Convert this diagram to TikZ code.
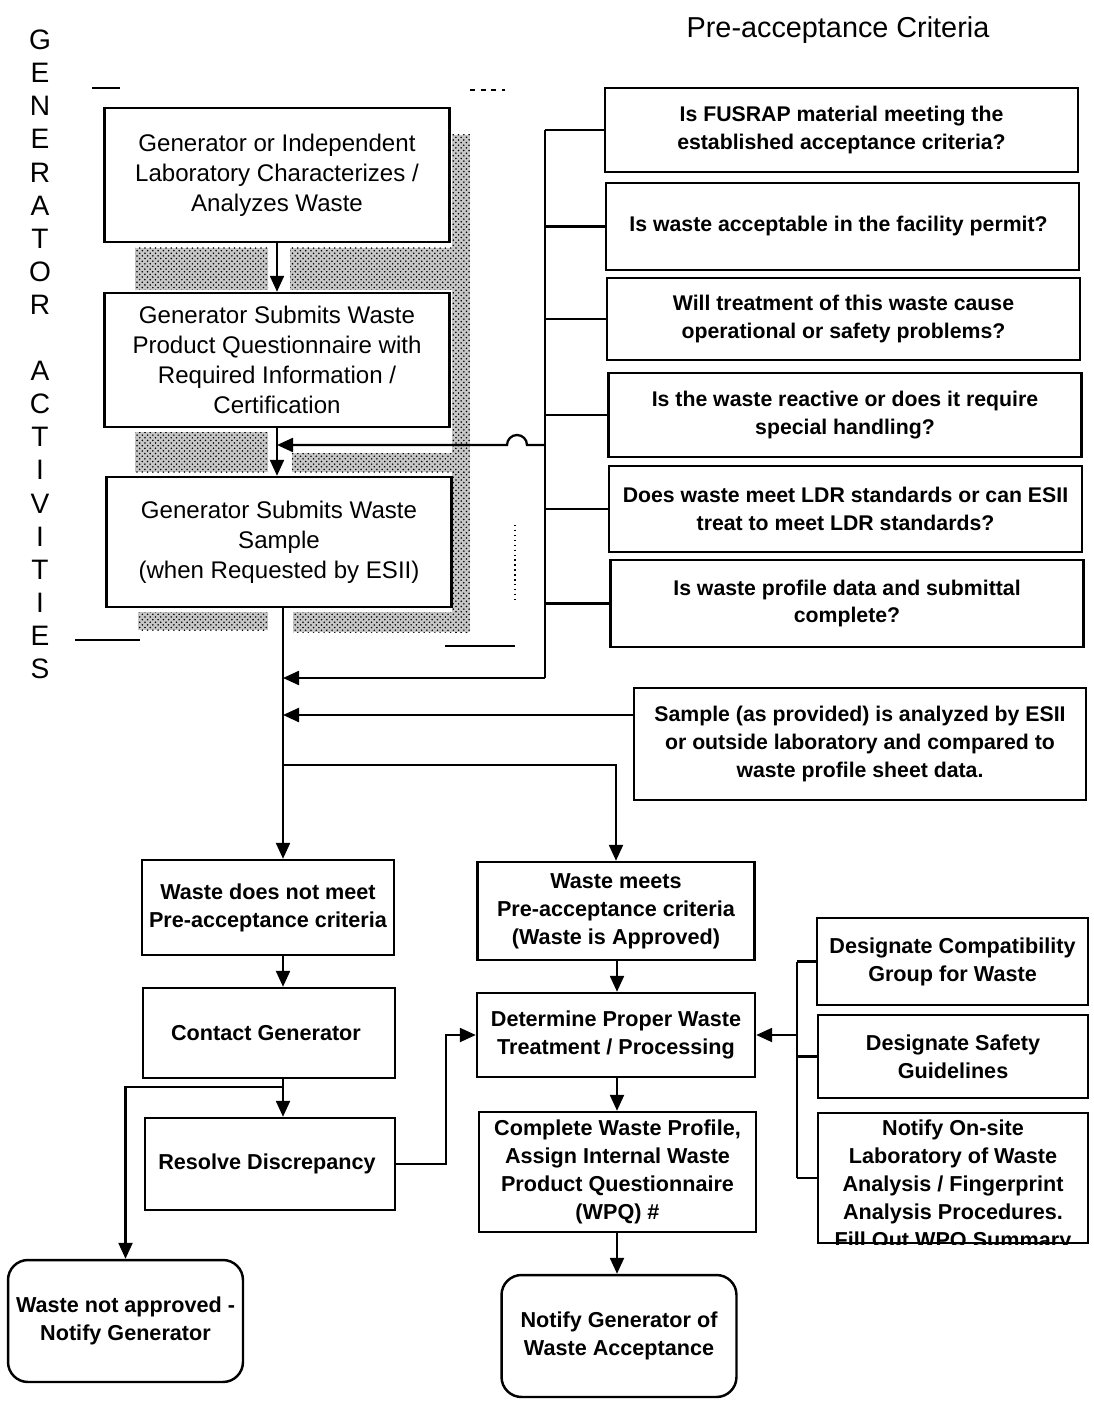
\documentclass[tikz,border=0pt]{standalone}
\usepackage{fontspec}
\setmainfont{Liberation Sans}
\usetikzlibrary{arrows.meta,patterns}

\begin{document}
\begin{tikzpicture}[x=0.02cm, y=-0.02cm,
    box/.style={rectangle, draw, line width=1.4pt, align=center, inner sep=2pt},
    genbox/.style={box, font=\fontsize{13.7}{17}\selectfont, minimum width=6.9cm},
    critbox/.style={box, font=\bfseries\fontsize{12.1}{15.9}\selectfont, minimum width=9.47cm},
    stepbox/.style={box, font=\bfseries\fontsize{12.3}{15.9}\selectfont},
    endbox/.style={stepbox, rounded corners=0.4cm, minimum width=4.7cm, minimum height=2.44cm},
    letter/.style={font=\fontsize{16}{19}\selectfont, inner sep=0pt},
    arr/.style={-{Triangle[length=0.32cm,width=0.28cm]}, line width=1.3pt},
    link/.style={line width=1.3pt},
    speckle/.style={fill=black!22, postaction={pattern=crosshatch dots, pattern color=black}},
    scrap/.style={line width=0.8pt}]
    \useasboundingbox (0,0) rectangle (1093,1405);

    % Side heading
    \foreach \ch [count=\k from 0] in {G,E,N,E,R,A,T,O,R}
        \node[letter] (gen\k) at (40,{40+33.1*\k}) {\ch};
    \foreach \ch [count=\k from 10] in {A,C,T,I,V,I,T,I,E,S}
        \node[letter] (act\k) at (40,{40+33.1*\k}) {\ch};
    \node[font=\fontsize{16.4}{20}\selectfont] (title) at (838,30) {Pre-acceptance Criteria};

    % Shadow texture
    \fill[speckle] (135,248) rectangle (268,290);
    \fill[speckle] (290,248) rectangle (465,290);
    \fill[speckle] (452,135) rectangle (470,632);
    \fill[speckle] (135,432) rectangle (268,472);
    \fill[speckle] (292,453) rectangle (468,472);
    \fill[speckle] (138,612) rectangle (268,630);
    \fill[speckle] (293,612) rectangle (470,632);

    % Frame scraps
    \draw[scrap] (92,88) -- (120,88);
    \draw[scrap, dashed] (470,90) -- (505,90);
    \draw[scrap] (75,640) -- (140,640);
    \draw[scrap] (445,646) -- (515,646);
    \draw[scrap, dotted] (515,525) -- (515,600);

    % Generator activities
    \node[genbox, minimum height=2.68cm] (charac) at (277,175) {
        Generator or Independent\\Laboratory Characterizes /\\Analyzes Waste
    };
    \node[genbox, minimum height=2.68cm] (questn) at (277,360) {
        Generator Submits Waste\\Product Questionnaire with\\Required Information /\\Certification
    };
    \node[genbox, minimum height=2.6cm] (submit) at (279,542) {
        Generator Submits Waste\\Sample\\(when Requested by ESII)
    };

    % Pre-acceptance criteria
    \node[critbox, minimum height=1.68cm] (crit1) at (841.5,130) {
        Is FUSRAP material meeting the\\established acceptance criteria?
    };
    \node[critbox, minimum height=1.74cm] (crit2) at (842.5,226.5) {
        Is waste acceptable in the facility permit?
    };
    \node[critbox, minimum height=1.64cm] (crit3) at (843.5,319) {
        Will treatment of this waste cause\\operational or safety problems?
    };
    \node[critbox, minimum height=1.68cm] (crit4) at (845,415) {
        Is the waste reactive or does it require\\special handling?
    };
    \node[critbox, minimum height=1.72cm] (crit5) at (845.5,509) {
        Does waste meet LDR standards or can ESII\\treat to meet LDR standards?
    };
    \node[critbox, minimum height=1.74cm] (crit6) at (847,603.5) {
        Is waste profile data and submittal\\complete?
    };
    \node[critbox, minimum width=9.04cm, minimum height=2.24cm] (analysis) at (860,744) {
        Sample (as provided) is analyzed by ESII\\or outside laboratory and compared to\\waste profile sheet data.
    };

    % Outcome
    \node[stepbox, minimum width=5.04cm, minimum height=1.9cm] (notmeet) at (268,907.5) {
        Waste does not meet\\Pre-acceptance criteria
    };
    \node[stepbox, minimum width=5.54cm, minimum height=1.96cm] (meets) at (616,911) {
        Waste meets\\Pre-acceptance criteria\\(Waste is Approved)
    };
    \node[stepbox, minimum width=5.04cm, minimum height=1.8cm] (contact) at (269,1033) {
        Contact Generator
    };
    \node[stepbox, minimum width=5.56cm, minimum height=1.68cm] (determine) at (616,1035) {
        Determine Proper Waste\\Treatment / Processing
    };
    \node[stepbox, minimum width=5cm, minimum height=1.84cm] (resolve) at (270,1164) {
        Resolve Discrepancy
    };
    \node[stepbox, minimum width=5.54cm, minimum height=2.4cm] (complete) at (617.5,1172) {
        Complete Waste Profile,\\Assign Internal Waste\\Product Questionnaire\\(WPQ) \#
    };
    \node[endbox] (notappr) at (125.5,1321) {
        Waste not approved -\\Notify Generator
    };
    \node[endbox] (notifygen) at (619,1336) {
        Notify Generator of\\Waste Acceptance
    };

    % Handling tasks
    \node[stepbox, minimum width=5.42cm, minimum height=1.74cm] (descomp) at (952.5,961.5) {
        Designate Compatibility\\Group for Waste
    };
    \node[stepbox, minimum width=5.4cm, minimum height=1.66cm] (dessafe) at (953,1056.5) {
        Designate Safety\\Guidelines
    };
    \node[stepbox, minimum width=5.4cm, minimum height=2.6cm] (notifylab) at (953,1178) {};
    \begin{scope}
        \clip (notifylab.south west) rectangle (notifylab.north east);
        \node[stepbox, draw=none] (labtext) at ([yshift=-0.16cm]notifylab.center) {
            Notify On-site\\Laboratory of Waste\\Analysis / Fingerprint\\Analysis Procedures.\\Fill Out WPQ Summary
        };
    \end{scope}

    % Helper points
    \coordinate (lc) at (283,0);
    \coordinate (mc) at (617,0);
    \coordinate (cb) at (545,0);
    \coordinate (rb) at (797,0);
    \coordinate (hop) at (545,445);
    \coordinate (cbot) at (545,678);
    \coordinate (split) at (283,765);
    \coordinate (fork) at (283,1087);
    \coordinate (s1) at ([yshift=0.58cm]analysis.west);

    % Arrows
    \draw[arr] (charac.south) -- (charac.south |- questn.north);
    \draw[arr] (questn.south) -- (questn.south |- submit.north);
    \draw[arr] (submit.south -| lc) -- (notmeet.north -| lc);
    \foreach \n in {1,...,6}
        \draw[link] (crit\n.west) -- (crit\n.west -| cb);
    \draw[link] (crit1.west -| cb) -- (cbot);
    \draw[arr] (hop) -- ++(-18,0) arc[start angle=0, end angle=180, radius=0.2cm] -- (hop -| questn.south);
    \draw[arr] (cbot) -- (cbot -| lc);
    \draw[arr] (s1) -- (s1 -| lc);
    \draw[arr] (split) -| (meets.north);
    \draw[arr] (notmeet.south -| lc) -- (contact.north -| lc);
    \draw[arr] (contact.south -| lc) -- (resolve.north -| lc);
    \draw[arr] (fork) -| (notappr.north);
    \draw[arr] (resolve.east) -- ++(50,0) |- (determine.west);
    \draw[arr] (meets.south -| mc) -- (determine.north -| mc);
    \draw[arr] (determine.south -| mc) -- (complete.north -| mc);
    \draw[arr] (complete.south -| mc) -- (notifygen.north -| mc);
    \draw[link] (descomp.west -| rb) -- (notifylab.west -| rb);
    \foreach \b in {descomp,dessafe,notifylab}
        \draw[link] (\b.west) -- (\b.west -| rb);
    \draw[arr] (determine.east -| rb) -- (determine.east);

\end{tikzpicture}
\end{document}
